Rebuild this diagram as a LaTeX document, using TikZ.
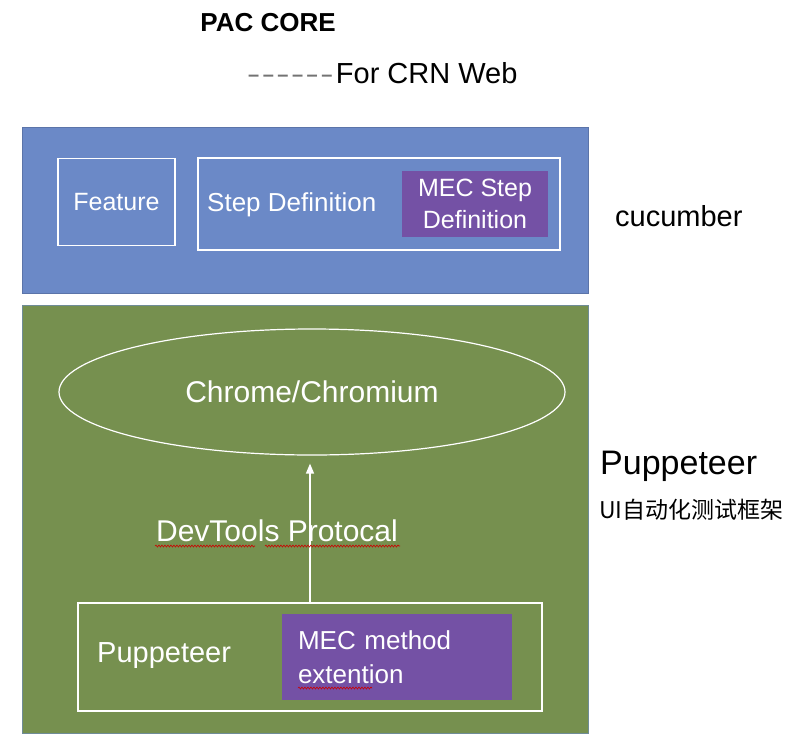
\documentclass[tikz,border=0pt]{standalone}
\usepackage{fontspec}
\setmainfont{Liberation Sans}
\newfontfamily\cjk{Noto Sans CJK SC}
\usetikzlibrary{shapes.geometric, arrows.meta, positioning, decorations.pathmorphing}

\definecolor{cukeblue}{HTML}{6B89C7}
\definecolor{pupgreen}{HTML}{76904F}
\definecolor{mecpurple}{HTML}{7451A5}
\newcommand{\fsz}[2]{\fontsize{#1}{#2}\selectfont}
\newcommand{\dsh}{\raisebox{2pt}{\bfseries\fsz{20}{20}\textendash}\hspace{3.5pt}}

\begin{document}
\begin{tikzpicture}[x=1pt, y=-1pt,
    layer/.style = {draw, rectangle, inner sep=0pt, line width=1pt},
    main/.style = {draw=white, line width=1.5pt, rectangle, inner sep=0pt, text=white},
    mec/.style = {fill=mecpurple, rectangle, text=white},
    lbl/.style = {inner sep=0pt, anchor=west},
    squiggle/.style = {red!80!black, line width=0.6pt, decorate, decoration={snake, amplitude=1pt, segment length=3pt}}]

    \useasboundingbox (0,0) rectangle (790,750);

    % title
    \node[font=\bfseries\fsz{26}{30}] (title) at (268,23) {PAC CORE};
    \node[lbl, font=\fsz{29}{32}] (forweb) at (248,73) {{\color{black!55}\dsh\dsh\dsh\dsh\dsh\dsh}For CRN Web};

    % cucumber layer
    \node[layer, draw=cukeblue!85!black, fill=cukeblue, minimum width=566pt, minimum height=166pt] (cuke) at (305,210) {};
    \node[main, minimum width=117pt, minimum height=87pt, font=\fsz{25}{30}] (feature) at (116.5,202) {Feature};
    \node[main, minimum width=362pt, minimum height=92pt] (stepbox) at (379,204) {};
    \node[lbl, text=white, font=\fsz{26}{30}] (steptxt) at (207,205) {Step Definition};
    \node[mec, inner sep=0pt, align=center, minimum width=146pt, minimum height=66pt, font=\fsz{25}{32}] (mecstep) at (475,204) {MEC Step\\Definition};
    \node[lbl, font=\fsz{29}{32}] (cuketxt) at (615,216) {cucumber};

    % puppeteer layer
    \node[layer, draw=cukeblue!60!pupgreen, fill=pupgreen, minimum width=566pt, minimum height=428pt] (pup) at (305,519) {};
    \node[draw=white, line width=1.2pt, ellipse, inner sep=0pt, minimum width=506pt, minimum height=126pt, text=white, font=\fsz{30}{36}] (chrome) at (312,392) {Chrome/Chromium};
    \node[main, minimum width=464pt, minimum height=108pt] (pupbox) at (310,657) {};
    \node[lbl, text=white, font=\fsz{29}{34}] (puptxt) at (97,656) {Puppeteer};
    \node[mec, inner xsep=16pt, inner ysep=0pt, text width=198pt, align=left, minimum height=86pt, font=\fsz{26}{34}] (mecmethod) at (397,657) {MEC method\\extention};
    \node[text=white, font=\fsz{30}{36}] (devtools) at (277,531) {DevTools Protocal};
    \draw[white, line width=1.5pt, -{Triangle[length=10pt,width=8pt]}, shorten >=8pt] (pupbox.north) -- (pupbox.north |- chrome.south);

    \draw[squiggle] (155,546) -- (255,546);
    \draw[squiggle] (265,546) -- (400,546);
    \draw[squiggle] (298,688) -- (372,688);

    \node[lbl, font=\fsz{34}{40}] (puplbl) at (600,466) {Puppeteer};
    \node[lbl, font=\cjk\fsz{23}{28}] (puplbl2) at (599,510) {UI自动化测试框架};

\end{tikzpicture}
\end{document}
